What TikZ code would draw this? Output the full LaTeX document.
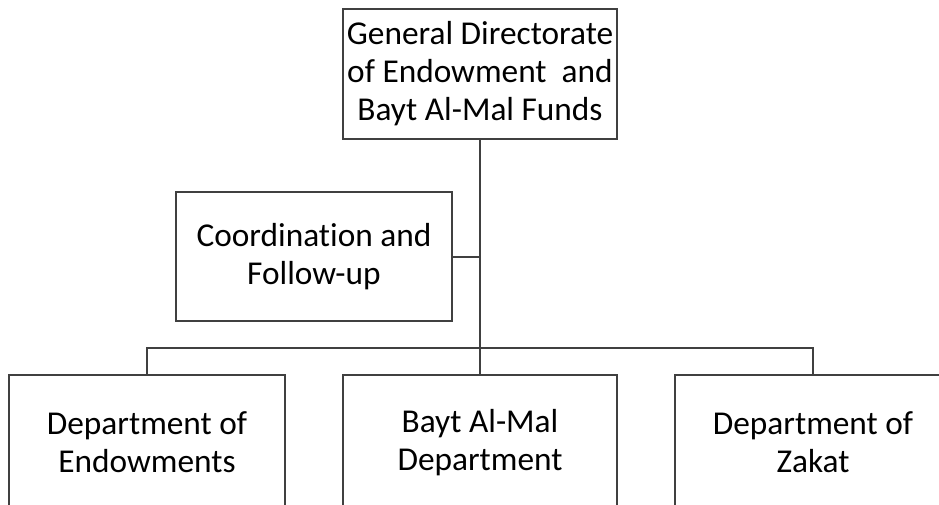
\documentclass[tikz,border=0pt]{standalone}
\usepackage{fontspec}
\setmainfont{Carlito}[Ligatures={NoCommon,NoRare}]
\begin{document}
\begin{tikzpicture}[x=0.75pt, y=-0.75pt,
    box/.style={draw=black!75, line width=1.5pt, rectangle, inner sep=0pt, align=center,
      minimum width=207pt, font=\fontsize{25}{28.5}\selectfont},
    link/.style={draw=black!75, line width=1.5pt}]
    \useasboundingbox (0, 0) rectangle (939, 504);

    % Nodes
    \path (480, 74) node [box, minimum width=205.5pt, minimum height=97.5pt] (gd) {General Directorate\\of Endowment\ \ and\\Bayt Al-Mal Funds};
    \path (314, 256.5) node [box, minimum height=96.75pt] (cf) {Coordination and\\Follow-up};
    \path (147, 442.5) node [box, minimum height=101.25pt] (de) {Department of\\Endowments};
    \path (480, 442.5) node [box, minimum width=205.5pt, minimum height=101.25pt] (bm) {Bayt Al-Mal\\Department};
    \path (813, 442.5) node [box, minimum height=101.25pt] (dz) {Department of\\Zakat};
    \path (480, 348) coordinate (bus);

    % Connections
    \draw [link] (gd.south) -- (bm.north);
    \draw [link] (cf.east) -- (cf.east -| gd.south);
    \draw [link] (de.north) |- (bus) -| (dz.north);
  \end{tikzpicture}
\end{document}
